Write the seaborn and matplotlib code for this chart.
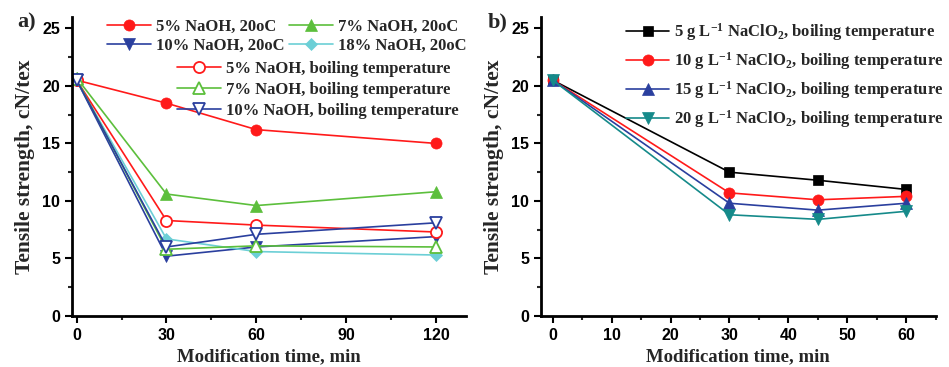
import matplotlib
matplotlib.use("Agg")
import matplotlib.pyplot as plt
import seaborn as sns
from matplotlib.ticker import MultipleLocator, AutoMinorLocator

sns.set_style("ticks")
plt.rcParams["font.family"] = ["Liberation Sans", "DejaVu Sans"]
plt.rcParams["mathtext.fontset"] = "custom"
plt.rcParams["mathtext.rm"] = "Liberation Serif:bold"
plt.rcParams["mathtext.it"] = "Liberation Serif:bold"
plt.rcParams["mathtext.bf"] = "Liberation Serif:bold"

# panel a: NaOH treatment
time_a = [0, 30, 60, 120]
naoh5_20 = [20.5, 18.5, 16.2, 15.0]
naoh7_20 = [20.7, 10.6, 9.6, 10.8]
naoh10_20 = [20.5, 5.2, 6.0, 6.9]
naoh18_20 = [20.5, 6.7, 5.6, 5.3]
naoh5_boil = [20.5, 8.3, 7.9, 7.3]
naoh7_boil = [20.6, 5.8, 6.1, 6.0]
naoh10_boil = [20.5, 6.0, 7.1, 8.1]

# panel b: NaClO2 treatment
time_b = [0, 30, 45, 60]
clo5 = [20.5, 12.5, 11.8, 11.0]
clo10 = [20.5, 10.7, 10.1, 10.4]
clo15 = [20.5, 9.8, 9.2, 9.8]
clo20 = [20.5, 8.8, 8.4, 9.1]

RED = "#ff1a1a"
GREEN = "#5cbf3c"
BLUE = "#2a3f9e"
CYAN = "#6ccfd6"
TEAL = "#158a8a"

fig = plt.figure(figsize=(9.49, 3.67), dpi=100)
ax1 = fig.add_axes([0.076, 0.139, 0.415, 0.815])
ax2 = fig.add_axes([0.570, 0.139, 0.416, 0.815])

serif = ["Liberation Serif", "DejaVu Serif"]


def draw(ax, x, y, color, marker, label, filled=True, ms=8):
    sns.lineplot(x=x, y=y, ax=ax, color=color, marker=marker, markersize=ms,
                 markerfacecolor=color if filled else "white",
                 markeredgecolor=color, markeredgewidth=1.3 if not filled else 0.5,
                 linewidth=1.2, label=label, legend=False)


draw(ax1, time_a, naoh5_20, RED, "o", "5% NaOH, 20oC")
draw(ax1, time_a, naoh7_20, GREEN, "^", "7% NaOH, 20oC")
draw(ax1, time_a, naoh10_20, BLUE, "v", "10% NaOH, 20oC")
draw(ax1, time_a, naoh18_20, CYAN, "D", "18% NaOH, 20oC", ms=6.5)
draw(ax1, time_a, naoh5_boil, RED, "o", "5% NaOH, boiling temperature", filled=False)
draw(ax1, time_a, naoh7_boil, GREEN, "^", "7% NaOH, boiling temperature", filled=False)
draw(ax1, time_a, naoh10_boil, BLUE, "v", "10% NaOH, boiling temperature", filled=False)

draw(ax2, time_b, clo5, "black", "s", r"5 g L$^{-1}$ NaClO$_{2}$, boiling temperature", ms=7)
draw(ax2, time_b, clo10, RED, "o", r"10 g L$^{-1}$ NaClO$_{2}$, boiling temperature")
draw(ax2, time_b, clo15, BLUE, "^", r"15 g L$^{-1}$ NaClO$_{2}$, boiling temperature")
draw(ax2, time_b, clo20, TEAL, "v", r"20 g L$^{-1}$ NaClO$_{2}$, boiling temperature")

ax1.set_xlim(-1.5, 130)
ax1.xaxis.set_major_locator(MultipleLocator(30))
ax2.set_xlim(-2, 65)
ax2.xaxis.set_major_locator(MultipleLocator(10))

for ax in (ax1, ax2):
    ax.set_ylim(0, 26)
    ax.yaxis.set_major_locator(MultipleLocator(5))
    ax.xaxis.set_minor_locator(AutoMinorLocator(2))
    ax.yaxis.set_minor_locator(AutoMinorLocator(2))
    sns.despine(ax=ax)
    for s in ("left", "bottom"):
        ax.spines[s].set_linewidth(2)
        ax.spines[s].set_color("black")
    ax.tick_params(which="major", direction="out", length=5, width=1.5,
                   labelsize=11.5, colors="black")
    ax.tick_params(which="minor", direction="out", length=3, width=1.5)
    for lab in ax.get_xticklabels() + ax.get_yticklabels():
        lab.set_fontweight("bold")
    ax.set_xlabel("Modification time, min", family=serif, fontweight="bold",
                  fontsize=13.5, labelpad=4)
    ax.set_ylabel("Tensile strength, cN/tex", family=serif, fontweight="bold",
                  fontsize=15.5, labelpad=5)

fig.text(0.018, 0.925, "a)", family=serif, fontweight="bold", fontsize=16)
fig.text(0.514, 0.925, "b)", family=serif, fontweight="bold", fontsize=16)

h, l = ax1.get_legend_handles_labels()
order = [0, 2, 1, 3]
leg_font = {"family": serif, "weight": "bold", "size": 12}
leg1 = ax1.legend([h[i] for i in order], [l[i] for i in order], ncol=2,
                  loc="upper right", bbox_to_anchor=(1.03, 1.033),
                  frameon=False, prop=leg_font, handlelength=2.6, handletextpad=0.3,
                  columnspacing=0.3, labelspacing=0.2, borderpad=0.2)
ax1.add_artist(leg1)
ax1.legend(h[4:], l[4:], loc="upper right", bbox_to_anchor=(1.01, 0.893),
           frameon=False, prop=leg_font, handlelength=2.6, handletextpad=0.3,
           labelspacing=0.3, borderpad=0.2)

ax2.legend(loc="upper right", bbox_to_anchor=(1.05, 1.025), frameon=False,
           prop=leg_font, handlelength=2.6, handletextpad=0.3,
           labelspacing=0.42, borderpad=0.2)

fig.savefig("out.png", dpi=100)
